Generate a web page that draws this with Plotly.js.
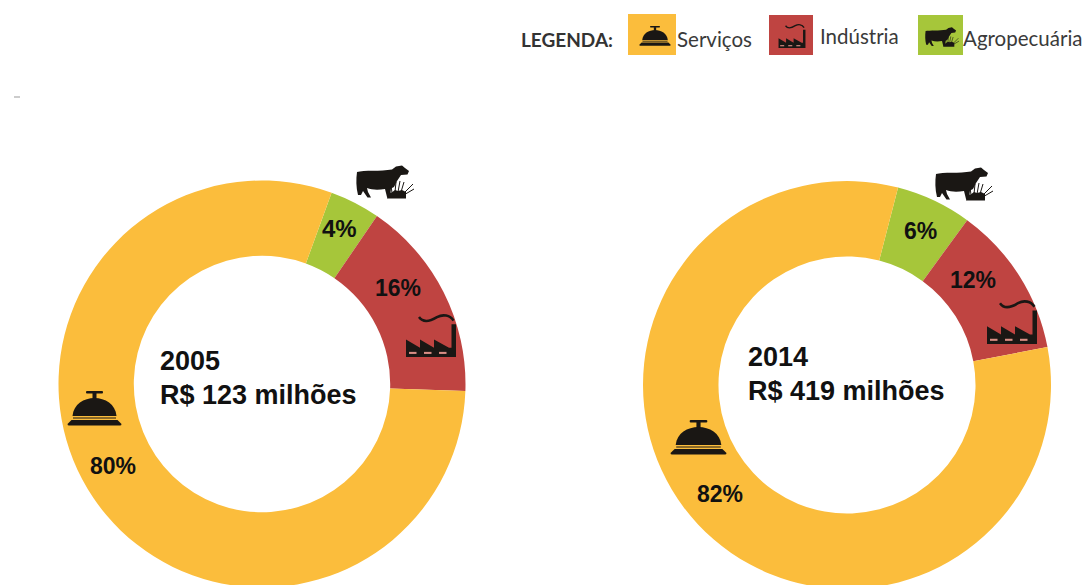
<!DOCTYPE html>
<html>
<head>
<meta charset="utf-8">
<script src="https://cdn.plot.ly/plotly-3.0.1.min.js"></script>
<style>
html,body{margin:0;padding:0;background:#fff;overflow:hidden;width:1089px;height:585px}
</style>
</head>
<body>
<div id="chart"></div>
<script>
// Shares of GDP by sector, in percent
const sectors = ['Agropecuária', 'Indústria', 'Serviços'];
const shares2005 = [4, 16, 80];
const shares2014 = [6, 12, 82];
const sectorColors = ['#a6c63a', '#bf4441', '#fbbd3c'];
const years = ['2005', '2014'];
const totals = ['R$ 123 milhões', 'R$ 419 milhões'];

const W = 1089, H = 600;
const px = x => x / W;
const py = y => 1 - y / H;

function domainFor(cx, cy, r) {
  return {x: [px(cx - r), px(cx + r)], y: [py(cy + r), py(cy - r)]};
}
function ring(values, rotation, cx, cy, r) {
  return {
    type: 'pie', labels: sectors, values: values, hole: 0.63, sort: false,
    direction: 'clockwise', rotation: rotation, textinfo: 'none', hoverinfo: 'label+percent',
    marker: {colors: sectorColors, line: {width: 0}},
    domain: domainFor(cx, cy, r), showlegend: false
  };
}

// Pictograms
const ink = '#1a1714';
const svg = body => 'data:image/svg+xml;utf8,' + encodeURIComponent(body);
const bellIcon = svg(`<svg xmlns="http://www.w3.org/2000/svg" viewBox="0 0 110 70"><g fill="${ink}">
<rect x="38" y="0" width="34" height="5" rx="2"/><rect x="51" y="4" width="8" height="12"/>
<path d="M11 50 C13 26 34 14 55 14 C76 14 97 26 99 50 Z"/>
<rect x="12" y="53" width="86" height="2"/><path d="M9 58 H101 L109 66 Q109 69 106 69 H4 Q1 69 1 66 Z"/></g></svg>`);
const factoryIcon = svg(`<svg xmlns="http://www.w3.org/2000/svg" viewBox="0 0 104 84"><g fill="${ink}">
<path d="M2 84 V50 L30 66 V50 L58 66 V50 L88 66 H93 V20 H102 V84 Z"/></g>
<g fill="#d98d84"><rect x="8" y="74" width="15" height="4"/><rect x="38" y="74" width="15" height="4"/><rect x="68" y="74" width="15" height="4"/></g>
<path d="M28 6 C38 20 54 12 64 6 C76 0 90 2 97 13" fill="none" stroke="${ink}" stroke-width="5"/></svg>`);
const cowIcon = svg(`<svg xmlns="http://www.w3.org/2000/svg" viewBox="0 0 116 68"><g fill="${ink}">
<path d="M2 14 C15 10 50 13 72 9 L80 3 L92 1 L98 6 L106 12 L103 19 L90 20 L82 32 L76 44 L70 47 L68 64 L62 64 L58 48 C45 50 32 50 22 46 L24 54 L30 65 L23 65 L14 52 L10 60 L4 60 C0 45 0 28 2 14 Z"/>
<path d="M62 67 L64 52 L70 56 L78 50 L84 52 L92 50 L100 54 L100 67 Z"/></g>
<g fill="none" stroke="${ink}" stroke-width="2"><path d="M72 56 L70 40"/><path d="M78 54 L80 34"/><path d="M84 54 L88 32"/><path d="M90 54 L96 34"/><path d="M96 56 L114 38"/><path d="M99 58 L116 48"/></g></svg>`);

function icon(source, x, y, w, h) {
  return {source: source, xref: 'paper', yref: 'paper', x: px(x), y: py(y), sizex: w / W, sizey: h / H,
          sizing: 'stretch', xanchor: 'left', yanchor: 'top', layer: 'above'};
}
function swatch(color, x0, y0, x1, y1) {
  return {type: 'rect', layer: 'below', xref: 'paper', yref: 'paper', x0: px(x0), x1: px(x1), y0: py(y0), y1: py(y1),
          fillcolor: color, line: {width: 0}};
}
function note(text, x, y, size, opts) {
  return Object.assign({
    text: text, xref: 'paper', yref: 'paper', x: px(x), y: py(y), xanchor: 'left', yanchor: 'middle',
    showarrow: false, font: {family: '"Liberation Sans", Arial, sans-serif', size: size, color: '#111'}
  }, opts || {});
}
const legendFont = {family: 'Lato, "Open Sans", sans-serif', size: 20.5, color: '#3a3a3a'};

const traces = [
  ring(shares2005, 20, 262, 384, 203.5),
  ring(shares2014, 14.5, 847, 385, 204)
];

const layout = {
  width: W, height: H, margin: {l: 0, r: 0, t: 0, b: 0, pad: 0},
  paper_bgcolor: '#fff', plot_bgcolor: '#fff', showlegend: false,
  shapes: [
    swatch(sectorColors[2], 628, 14, 676, 55),
    swatch(sectorColors[1], 769, 15, 813, 55),
    swatch(sectorColors[0], 918, 15, 963, 55),
    {type: 'line', layer: 'below', xref: 'paper', yref: 'paper', x0: px(14), x1: px(20), y0: py(97), y1: py(97), line: {color: '#999', width: 1}}
  ],
  images: [
    icon(bellIcon, 639, 26, 32, 20),
    icon(factoryIcon, 778, 24, 28, 24),
    icon(cowIcon, 925, 27, 34, 20),
    icon(cowIcon, 356, 165, 58, 34),
    icon(factoryIcon, 405, 314, 52, 43),
    icon(bellIcon, 67, 391, 55, 35),
    icon(cowIcon, 935, 167, 58, 34),
    icon(factoryIcon, 986, 300, 52, 44),
    icon(bellIcon, 670, 420, 57, 35)
  ],
  annotations: [
    note('<b>LEGENDA:</b>', 519, 40, 19, {font: Object.assign({}, legendFont, {size: 19, color: '#333'})}),
    note('Serviços', 675, 39, 20.5, {font: legendFont}),
    note('Indústria', 818, 36, 20.5, {font: legendFont}),
    note('Agropecuária', 961, 38, 20.5, {font: legendFont}),
    note('<b>' + shares2005[0] + '%</b>', 320, 228, 24),
    note('<b>' + shares2005[1] + '%</b>', 373, 288, 23),
    note('<b>' + shares2005[2] + '%</b>', 88, 466, 23),
    note('<b>' + shares2014[0] + '%</b>', 902, 231, 23),
    note('<b>' + shares2014[1] + '%</b>', 948, 280, 23),
    note('<b>' + shares2014[2] + '%</b>', 695, 494, 23),
    note('<b>' + years[0] + '</b>', 158, 361, 27),
    note('<b>' + totals[0] + '</b>', 158, 395, 27),
    note('<b>' + years[1] + '</b>', 746, 357, 27),
    note('<b>' + totals[1] + '</b>', 746, 391, 27)
  ]
};

Plotly.newPlot('chart', traces, layout, {staticPlot: true, displayModeBar: false});
</script>
</body>
</html>
